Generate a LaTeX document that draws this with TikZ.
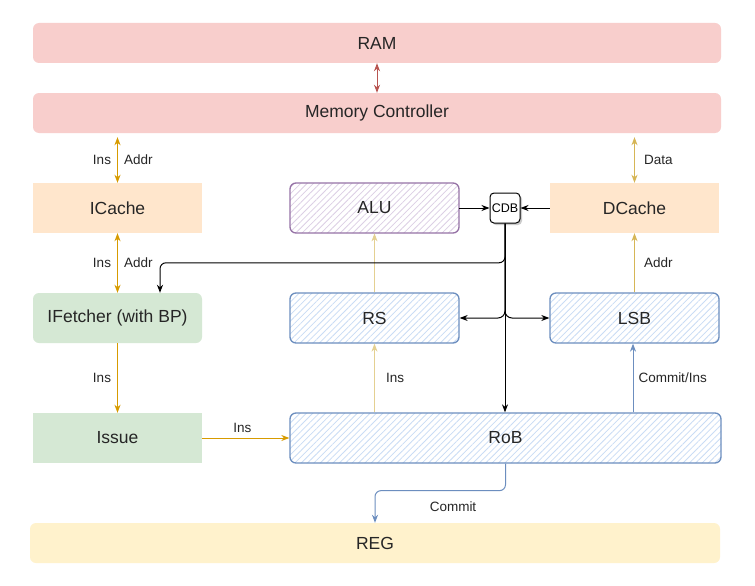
\documentclass[tikz,border=0pt]{standalone}
\usepackage{fontspec}
\setmainfont{Liberation Sans}
\usetikzlibrary{arrows.meta,patterns.meta,shadows,calc}
\definecolor{redfill}{HTML}{F8CECC}
\definecolor{redline}{HTML}{B85450}
\definecolor{orfill}{HTML}{FFE6CC}
\definecolor{orline}{HTML}{D79B00}
\definecolor{yelline}{HTML}{D6B656}
\definecolor{grfill}{HTML}{D5E8D4}
\definecolor{regfill}{HTML}{FFF2CC}
\definecolor{bluline}{HTML}{6C8EBF}
\definecolor{bluhatch}{HTML}{C9DCF5}
\definecolor{purline}{HTML}{9673A6}
\definecolor{purhatch}{HTML}{DCCFE5}
\begin{document}
\begin{tikzpicture}[x=1pt,y=-1pt,
  box/.style={inner sep=0pt,font=\fontsize{17.5}{21}\selectfont,text=black!85},
  rbox/.style={box,rounded corners=6pt},
  hbox/.style={box,rounded corners=6pt,draw,line width=1.3pt,
     pattern={Lines[angle=45,distance=4.5pt,line width=0.8pt]}},
  lab/.style={inner sep=0pt,font=\fontsize{13.5}{16}\selectfont,text=black!85},
  tip/.style={-{Stealth[length=8pt,width=6pt,inset=2.5pt]}},
  dtip/.style={{Stealth[length=8pt,width=6pt,inset=2.5pt]}-{Stealth[length=8pt,width=6pt,inset=2.5pt]}},
  conn/.style={line width=1pt}
]
\useasboundingbox[fill=white] (0,0) rectangle (755,586);

% nodes
\node[rbox,fill=redfill,minimum width=688,minimum height=40] (ram) at (377,43) {RAM};
\node[rbox,fill=redfill,minimum width=688,minimum height=40] (mc) at (377,113) {Memory Controller};
\node[box,fill=orfill,minimum width=169,minimum height=50] (icache) at (117.5,208) {ICache};
\node[hbox,draw=purline,pattern color=purhatch,minimum width=169,minimum height=50] (alu) at (374.5,208) {ALU};
\node[draw,fill=white,rounded corners=4pt,line width=1pt,minimum width=30,minimum height=30,inner sep=0pt,
      font=\fontsize{12.5}{14}\selectfont,drop shadow={shadow xshift=2pt,shadow yshift=-2pt,fill=black!40}] (cdb) at (505,208) {CDB};
\node[box,fill=orfill,minimum width=169,minimum height=50] (dcache) at (634.5,208) {DCache};
\node[rbox,fill=grfill,minimum width=169,minimum height=50] (ifetch) at (117.5,318) {IFetcher (with BP)};
\node[hbox,draw=bluline,pattern color=bluhatch,minimum width=169,minimum height=50] (rs) at (374.5,318) {RS};
\node[hbox,draw=bluline,pattern color=bluhatch,minimum width=169,minimum height=50] (lsb) at (634.5,318) {LSB};
\node[box,fill=grfill,minimum width=169,minimum height=50] (issue) at (117.5,438) {Issue};
\node[hbox,draw=bluline,pattern color=bluhatch,minimum width=431,minimum height=50] (rob) at (505.5,438) {RoB};
\node[rbox,fill=regfill,minimum width=690,minimum height=40] (reg) at (375,543) {REG};

\coordinate (ifin) at ([xshift=42.5]ifetch.north);
\coordinate (ifbend) at ([yshift=30]ifin);

% memory side
\draw[conn,dtip,redline] (ram.south) -- (mc.north);
\draw[conn,dtip,orline] ([yshift=-4]mc.south -| icache) -- (icache.north)
   node[lab,pos=0.5,left=6pt] (l1) {Ins} node[lab,pos=0.5,right=6pt] (l2) {Addr};
\draw[conn,dtip,yelline] ([yshift=-4]mc.south -| dcache) -- (dcache.north)
   node[lab,pos=0.5,right=9pt] (l3) {Data};
\draw[conn,dtip,orline] (icache.south) -- (ifetch.north -| icache)
   node[lab,pos=0.5,left=6pt] (l4) {Ins} node[lab,pos=0.5,right=6pt] (l5) {Addr};
\draw[conn,tip,yelline] (lsb.north) -- (dcache.south)
   node[lab,pos=0.5,right=9pt] (l6) {Addr};
\draw[conn,tip,yelline!65!white] (rs.north) -- (alu.south);
\draw[conn,tip,orline] (ifetch.south) -- (issue.north)
   node[lab,pos=0.5,left=6pt] (l7) {Ins};
\draw[conn,tip,orline] (issue.east) -- (rob.west)
   node[lab,pos=0.46,above=5pt] (l8) {Ins};
\draw[conn,tip,yelline!65!white] (rob.north -| rs) -- (rs.south)
   node[lab,pos=0.5,right=11pt] (l9) {Ins};
\draw[conn,tip,bluline] ([xshift=-1.5]rob.north -| lsb) -- ([xshift=-1.5]lsb.south)
   node[lab,pos=0.5,right=5pt] (l10) {Commit/Ins};
\draw[conn,tip,bluline,rounded corners=6pt] (rob.south) -- ++(0,27) -| (reg.north);
\node[lab] (l11) at (453,507) {Commit};

% CDB
\draw[conn,tip,black] (alu.east) -- (cdb.west);
\draw[conn,tip,black] (dcache.west) -- (cdb.east);
\draw[conn,tip,black,rounded corners=6pt] (cdb.south) |- (ifbend) -- (ifin);
\draw[conn,tip,black,rounded corners=7pt] (cdb.south) |- (rs.east);
\draw[conn,tip,black,rounded corners=7pt] (cdb.south) |- (lsb.west);
\draw[conn,tip,black] (cdb.south) -- (rob.north -| cdb.south);
\end{tikzpicture}
\end{document}
